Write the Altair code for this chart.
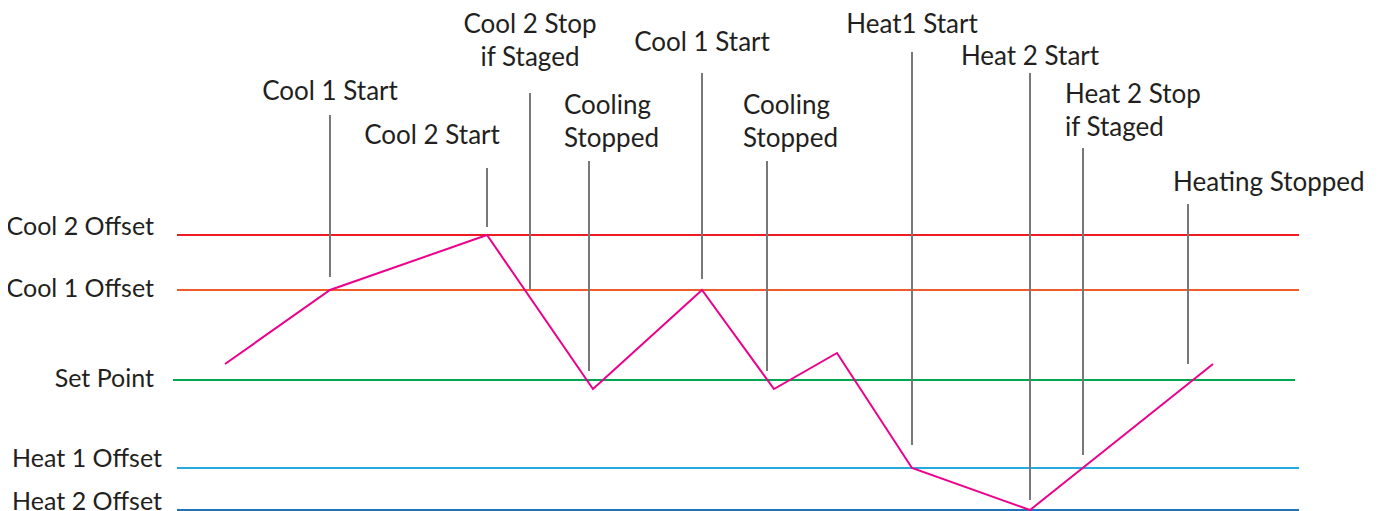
import altair as alt
import pandas as pd

# ---- data (time in plot units, value = offset from set point) ----
level_names = ["Cool 2 Offset", "Cool 1 Offset", "Set Point", "Heat 1 Offset", "Heat 2 Offset"]
level_values = [145, 90, 0, -88, -130]
level_colors = ["#ed1c24", "#f15a29", "#00a651", "#27aae1", "#1c75bc"]
level_start = [169, 169, 165, 169, 169]
level_end = [1291, 1291, 1287, 1291, 1291]
level_label_t = [146, 146, 146, 154, 154]
level_label_v = [145, 83, -7, -87, -130]

trace_t = [217, 322, 479, 585, 694, 766, 829, 904, 1022, 1205]
trace_v = [16, 90, 145, -9, 90, -9, 27, -88, -130, 16]

event_labels = ["Cool 1 Start", "Cool 2 Start", "Cool 2 Stop\nif Staged", "Cooling\nStopped",
                "Cool 1 Start", "Cooling\nStopped", "Heat1 Start", "Heat 2 Start",
                "Heat 2 Stop\nif Staged", "Heating Stopped"]
event_t = [322, 479, 522, 581, 694, 759, 904, 1022, 1075, 1180]
event_top = [265, 212, 287, 219, 307, 219, 328, 307, 232, 176]
event_bottom = [103, 153, 91, 9, 101, 9, -65, -120, -75, 16]
label_t = [322, 424, 522, 556, 694, 735, 904, 1022, 1057, 1165]
label_v = [280, 236, 347, 266, 329, 266, 347, 315, 277, 189]
label_align = ["center", "center", "center", "left", "center", "left", "center", "center", "left", "left"]

FONT = "Lato"
FS = 26
TXT = "#231f20"

levels = pd.DataFrame({
    "name": level_names, "v": level_values, "color": level_colors,
    "t0": level_start, "t1": level_end, "lt": level_label_t, "lv": level_label_v,
})
trace = pd.DataFrame({"t": trace_t, "v": trace_v, "o": list(range(len(trace_t)))})
events = pd.DataFrame({
    "label": event_labels, "t": event_t, "top": event_top, "bottom": event_bottom,
    "lt": label_t, "lv": label_v, "align": label_align,
})

xs = alt.Scale(domain=[0, 1364], nice=False, zero=False)
ys = alt.Scale(domain=[-131, 372], nice=False, zero=False)
X = lambda f: alt.X(f, type="quantitative", scale=xs, axis=None)
Y = lambda f: alt.Y(f, type="quantitative", scale=ys, axis=None)

level_rules = alt.Chart(levels).mark_rule(strokeWidth=2).encode(
    x=X("t0"), x2="t1", y=Y("v"),
    color=alt.Color("color:N", scale=None),
)
level_text = alt.Chart(levels).mark_text(
    align="right", baseline="alphabetic", font=FONT, fontSize=25, color=TXT
).encode(x=X("lt"), y=Y("lv"), text="name:N")

event_rules = alt.Chart(events).mark_rule(strokeWidth=2, color="#77787b").encode(
    x=X("t"), y=Y("top"), y2="bottom",
)
trace_line = alt.Chart(trace).mark_line(strokeWidth=2, color="#ec008c").encode(
    x=X("t"), y=Y("v"), order="o:Q",
)

text_layers = []
for al in ["left", "center"]:
    sub = events[events["align"] == al]
    text_layers.append(
        alt.Chart(sub).mark_text(
            align=al, baseline="alphabetic", font=FONT, fontSize=FS, color=TXT,
            lineBreak="\n", lineHeight=33,
        ).encode(x=X("lt"), y=Y("lv"), text="label:N")
    )

chart = alt.layer(level_rules, event_rules, trace_line, level_text, *text_layers).properties(
    width=1364, height=503, padding=0, autosize=alt.AutoSizeParams(type="none"),
    background="white",
).configure_view(stroke=None)

chart.save("out.html", embed_options={"renderer": "svg", "actions": False})
